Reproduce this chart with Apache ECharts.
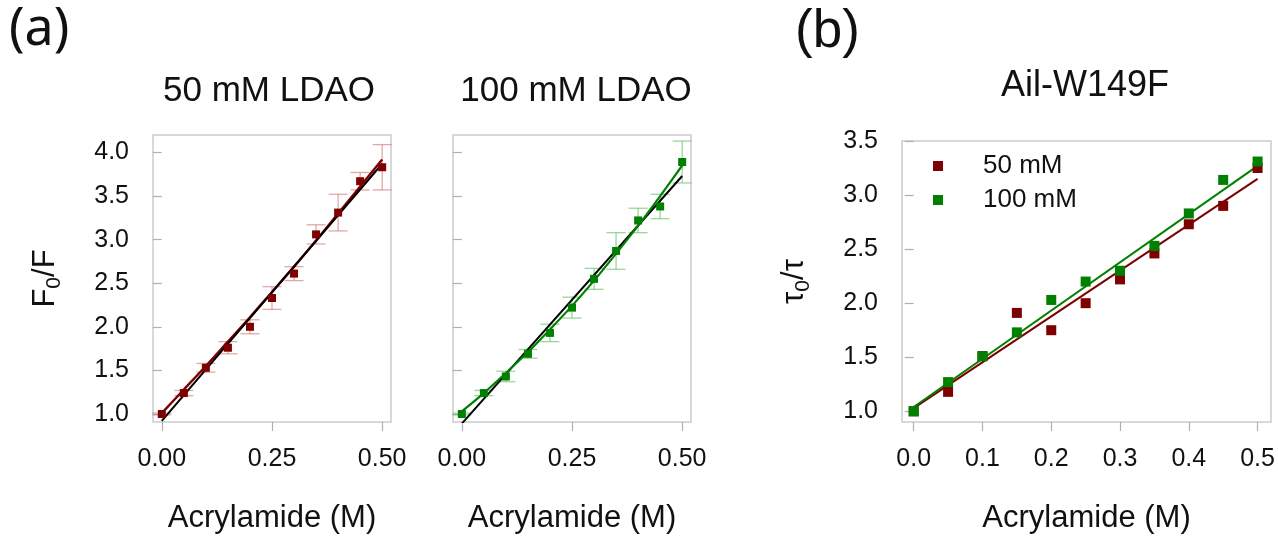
<!DOCTYPE html>
<html>
<head>
<meta charset="utf-8">
<script src="https://cdn.jsdelivr.net/npm/echarts@6/dist/echarts.min.js"></script>
<style>
  html, body { margin: 0; padding: 0; background: #fff; }
  #chart { width: 1278px; height: 539px; }
</style>
</head>
<body>
<div id="chart"></div>
<script>
// ---------- data ----------
const acrylamide = [0, 0.05, 0.10, 0.15, 0.20, 0.25, 0.30, 0.35, 0.40, 0.45, 0.50];

// (a) 50 mM LDAO : F0/F with error bars
const f0f50 = [1.00, 1.24, 1.53, 1.76, 2.00, 2.33, 2.61, 3.06, 3.31, 3.67, 3.83];
const f0f50Err = [0.01, 0.03, 0.05, 0.07, 0.08, 0.13, 0.08, 0.11, 0.21, 0.10, 0.26];
const f0f50Fit = [1.01, 1.28, 1.55, 1.83, 2.11, 2.40, 2.69, 2.99, 3.30, 3.61, 3.92];
const f0f50LinX = [0, 0.5];
const f0f50Lin = [0.92, 3.87];

// (a) 100 mM LDAO
const f0f100 = [1.00, 1.24, 1.43, 1.69, 1.93, 2.22, 2.55, 2.87, 3.22, 3.38, 3.89];
const f0f100Err = [0.01, 0.03, 0.06, 0.05, 0.10, 0.12, 0.12, 0.21, 0.14, 0.14, 0.24];
const f0f100Fit = [1.03, 1.24, 1.47, 1.71, 1.97, 2.24, 2.53, 2.84, 3.16, 3.50, 3.85];
const f0f100LinX = [0, 0.5];
const f0f100Lin = [0.89, 3.73];

// (b) Ail-W149F : tau0/tau
const tau50 = [1.00, 1.18, 1.51, 1.91, 1.75, 2.00, 2.22, 2.46, 2.73, 2.90, 3.25];
const tau100 = [1.00, 1.27, 1.51, 1.73, 2.03, 2.20, 2.30, 2.53, 2.83, 3.14, 3.31];
const tauFitX = [0, 0.5];
const tau50Fit = [1.03, 3.15];
const tau100Fit = [1.04, 3.27];

const xTicksA = [0, 0.25, 0.5];
const yTicksA = [1.0, 1.5, 2.0, 2.5, 3.0, 3.5, 4.0];
const xTicksB = [0, 0.1, 0.2, 0.3, 0.4, 0.5];
const yTicksB = [1.0, 1.5, 2.0, 2.5, 3.0, 3.5];

// ---------- styling ----------
const RED = '#7f0000';
const GREEN = '#008000';
const RED_ERR = 'rgba(205,110,110,0.6)';
const GREEN_ERR = 'rgba(90,185,90,0.6)';
const FONT = '"Liberation Sans", Arial, sans-serif';
const TXT = '#111111';

const zip = (xs, ys) => xs.map((x, i) => [x, ys[i]]);
const zip3 = (xs, ys, es) => xs.map((x, i) => [x, ys[i], es[i]]);

function xAxisDef(grid, min, max, ticks, dec, showName) {
  return {
    gridIndex: grid, type: 'value', min: min, max: max,
    axisLine: { show: false },
    splitLine: { show: false },
    axisTick: { show: true, length: 9, customValues: ticks, lineStyle: { color: '#b0b0b0', width: 1.2 } },
    axisLabel: { customValues: ticks, formatter: v => v.toFixed(dec), fontSize: 25, color: TXT, fontFamily: FONT, margin: 25 },
    name: showName ? 'Acrylamide (M)' : '',
    nameLocation: 'middle', nameGap: 81,
    nameTextStyle: { fontSize: 31, color: TXT, fontFamily: FONT }
  };
}
function yAxisDef(grid, min, max, ticks, showLabels, nameRich) {
  return {
    gridIndex: grid, type: 'value', min: min, max: max,
    axisLine: { show: false },
    splitLine: { show: false },
    axisTick: { show: true, length: 9, customValues: ticks, lineStyle: { color: '#b0b0b0', width: 1.2 } },
    axisLabel: { show: showLabels, customValues: ticks, formatter: v => v.toFixed(1), fontSize: 25, color: TXT, fontFamily: FONT, margin: 24 },
    name: nameRich || '',
    nameLocation: 'middle', nameGap: 88, nameRotate: 90,
    nameTextStyle: {
      color: TXT, fontFamily: FONT,
      rich: {
        m: { fontSize: 31, fontFamily: FONT, color: TXT, lineHeight: 40, verticalAlign: 'middle' },
        s: { fontSize: 21, fontFamily: FONT, color: TXT, lineHeight: 22, verticalAlign: 'bottom' }
      }
    }
  };
}

function errSeries(name, xi, yi, xs, ys, es, color) {
  return {
    name: name, type: 'custom', xAxisIndex: xi, yAxisIndex: yi, z: 1,
    data: zip3(xs, ys, es),
    encode: { x: 0, y: 1 },
    renderItem: function (params, api) {
      const x = api.value(0), y = api.value(1), e = api.value(2);
      const lo = api.coord([x, y - e]);
      const hi = api.coord([x, y + e]);
      const h = 9.5;
      const st = { stroke: color, lineWidth: 1.3 };
      return {
        type: 'group',
        children: [
          { type: 'line', shape: { x1: lo[0], y1: lo[1], x2: hi[0], y2: hi[1] }, style: st },
          { type: 'line', shape: { x1: lo[0] - h, y1: lo[1], x2: lo[0] + h, y2: lo[1] }, style: st },
          { type: 'line', shape: { x1: hi[0] - h, y1: hi[1], x2: hi[0] + h, y2: hi[1] }, style: st }
        ]
      };
    }
  };
}
function lineSeries(name, xi, yi, data, color, width, z, smooth) {
  return {
    name: name, type: 'line', xAxisIndex: xi, yAxisIndex: yi, z: z,
    data: data, showSymbol: false, smooth: smooth || false,
    lineStyle: { color: color, width: width }, silent: true
  };
}
function pointSeries(name, xi, yi, data, color, size, z) {
  return {
    name: name, type: 'scatter', xAxisIndex: xi, yAxisIndex: yi, z: z,
    data: data, symbol: 'rect', symbolSize: size,
    itemStyle: { color: color, opacity: 1 }
  };
}

const chart = echarts.init(document.getElementById('chart'), null, { renderer: 'canvas' });

const option = {
  animation: false,
  backgroundColor: '#ffffff',
  textStyle: { fontFamily: FONT },
  grid: [
    { left: 153, top: 135, width: 238, height: 288, show: true, borderColor: '#cccccc', borderWidth: 1.5, containLabel: false },
    { left: 453, top: 135, width: 238, height: 288, show: true, borderColor: '#cccccc', borderWidth: 1.5, containLabel: false },
    { left: 902, top: 141, width: 369, height: 289, show: true, borderColor: '#cccccc', borderWidth: 1.5, containLabel: false }
  ],
  xAxis: [
    xAxisDef(0, -0.02, 0.52, xTicksA, 2, true),
    xAxisDef(1, -0.02, 0.52, xTicksA, 2, true),
    xAxisDef(2, -0.017, 0.5195, xTicksB, 1, true)
  ],
  yAxis: [
    yAxisDef(0, 0.908, 4.2, yTicksA, true, '{m|F}{s|0}{m|/F}'),
    yAxisDef(1, 0.908, 4.2, yTicksA, false, ''),
    yAxisDef(2, 0.901, 3.5, yTicksB, true, '{m|τ}{s|0}{m|/τ}')
  ],
  legend: {
    data: ['50 mM', '100 mM'],
    orient: 'vertical',
    left: 933, top: 153,
    padding: 0,
    itemWidth: 10, itemHeight: 10, itemGap: 8,
    icon: 'rect',
    textStyle: { fontSize: 26, color: TXT, fontFamily: FONT, lineHeight: 26, padding: [0, 0, 0, 35] },
    selectedMode: false
  },
  graphic: [
    { type: 'text', left: 9, top: 4, style: { text: '(a)', font: '52px "Noto Sans", "Open Sans", sans-serif', fill: '#111' } },
    { type: 'text', left: 795, top: 6, style: { text: '(b)', font: '53px "Liberation Sans", Arial, sans-serif', fill: '#111' } },
    { type: 'text', x: 269, y: 91, style: { text: '50 mM LDAO', font: '35px "Liberation Sans", Arial, sans-serif', fill: TXT, textAlign: 'center', textVerticalAlign: 'middle' } },
    { type: 'text', x: 576, y: 91, style: { text: '100 mM LDAO', font: '35px "Liberation Sans", Arial, sans-serif', fill: TXT, textAlign: 'center', textVerticalAlign: 'middle' } },
    { type: 'text', x: 1085, y: 86, style: { text: 'Ail-W149F', font: '36px "Liberation Sans", Arial, sans-serif', fill: TXT, textAlign: 'center', textVerticalAlign: 'middle' } }
  ],
  series: [
    // panel (a) left
    errSeries('err50', 0, 0, acrylamide, f0f50, f0f50Err, RED_ERR),
    lineSeries('fit50', 0, 0, zip(acrylamide, f0f50Fit), RED, 2.4, 2, 0.3),
    lineSeries('lin50', 0, 0, zip(f0f50LinX, f0f50Lin), '#000000', 2, 3),
    pointSeries('pts50', 0, 0, zip(acrylamide, f0f50), RED, 8, 4),
    // panel (a) right
    errSeries('err100', 1, 1, acrylamide, f0f100, f0f100Err, GREEN_ERR),
    lineSeries('lin100', 1, 1, zip(f0f100LinX, f0f100Lin), '#000000', 2, 2),
    lineSeries('fit100', 1, 1, zip(acrylamide, f0f100Fit), GREEN, 2.2, 3, 0.3),
    pointSeries('pts100', 1, 1, zip(acrylamide, f0f100), GREEN, 8, 4),
    // panel (b)
    lineSeries('tauFit50', 2, 2, zip(tauFitX, tau50Fit), RED, 2, 2),
    lineSeries('tauFit100', 2, 2, zip(tauFitX, tau100Fit), GREEN, 2, 2),
    pointSeries('50 mM', 2, 2, zip(acrylamide, tau50), RED, 10, 4),
    pointSeries('100 mM', 2, 2, zip(acrylamide, tau100), GREEN, 10, 5)
  ]
};
chart.setOption(option);
</script>
</body>
</html>
